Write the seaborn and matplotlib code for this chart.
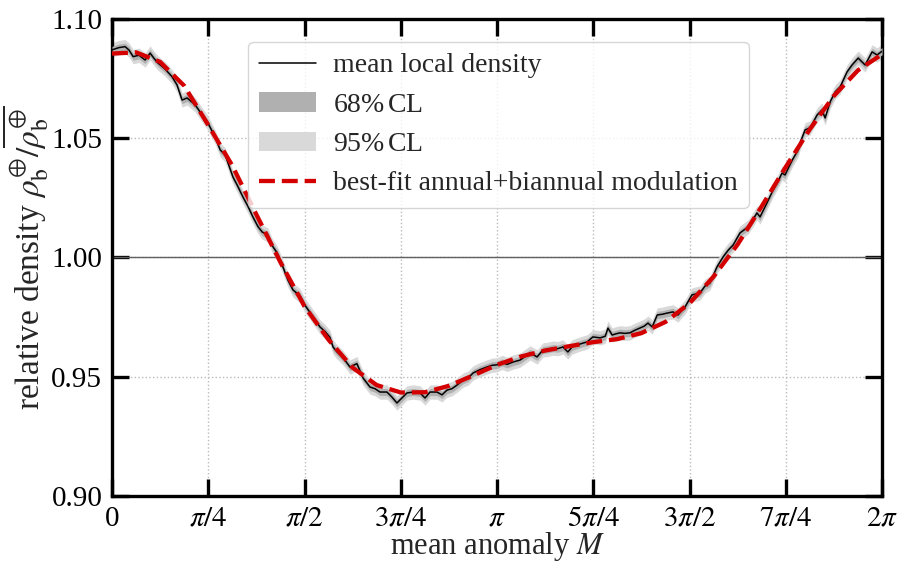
import numpy as np
import pandas as pd
import matplotlib
matplotlib.use("Agg")
import matplotlib.pyplot as plt
from matplotlib.lines import Line2D
from matplotlib.patches import Patch
import seaborn as sns

# ---------------- data ----------------
# mean local density, x given in units of pi
black_x_over_pi = [0.000, 0.003, 0.018, 0.034, 0.044, 0.055, 0.070, 0.086, 0.099, 0.109, 0.119, 0.138, 0.156, 0.169,
                   0.182, 0.195, 0.216, 0.234, 0.249, 0.268, 0.281, 0.294, 0.314, 0.325, 0.340, 0.353, 0.366, 0.379,
                   0.390, 0.405, 0.416, 0.429, 0.444, 0.457, 0.470, 0.488, 0.501, 0.514, 0.527, 0.540, 0.553, 0.566,
                   0.574, 0.584, 0.600, 0.618, 0.636, 0.652, 0.670, 0.683, 0.696, 0.714, 0.727, 0.740, 0.753, 0.766,
                   0.782, 0.800, 0.813, 0.826, 0.844, 0.857, 0.870, 0.883, 0.896, 0.912, 0.925, 0.938, 0.956, 0.974,
                   0.987, 1.000, 1.013, 1.026, 1.042, 1.060, 1.073, 1.086, 1.104, 1.119, 1.132, 1.145, 1.158, 1.171,
                   1.184, 1.195, 1.208, 1.221, 1.234, 1.249, 1.268, 1.281, 1.288, 1.299, 1.309, 1.319, 1.332, 1.345,
                   1.358, 1.371, 1.382, 1.392, 1.403, 1.416, 1.429, 1.442, 1.457, 1.470, 1.481, 1.488, 1.506, 1.527,
                   1.540, 1.553, 1.571, 1.587, 1.600, 1.613, 1.631, 1.652, 1.665, 1.675, 1.683, 1.701, 1.717, 1.730,
                   1.740, 1.748, 1.758, 1.769, 1.782, 1.787, 1.800, 1.813, 1.831, 1.844, 1.852, 1.865, 1.878, 1.891,
                   1.909, 1.922, 1.938, 1.956, 1.974, 1.987, 2.000]
black_density = [1.0870, 1.0872, 1.0880, 1.0884, 1.0870, 1.0842, 1.0848, 1.0828, 1.0857, 1.0835, 1.0816, 1.0790, 1.0758, 1.0723,
                 1.0660, 1.0669, 1.0640, 1.0598, 1.0564, 1.0505, 1.0451, 1.0430, 1.0338, 1.0304, 1.0254, 1.0215, 1.0170, 1.0130,
                 1.0107, 1.0094, 1.0050, 1.0019, 0.9960, 0.9905, 0.9864, 0.9840, 0.9800, 0.9770, 0.9740, 0.9709, 0.9690, 0.9665,
                 0.9625, 0.9605, 0.9580, 0.9541, 0.9555, 0.9495, 0.9457, 0.9450, 0.9436, 0.9436, 0.9415, 0.9390, 0.9411, 0.9432,
                 0.9436, 0.9432, 0.9411, 0.9436, 0.9436, 0.9424, 0.9444, 0.9450, 0.9465, 0.9486, 0.9495, 0.9516, 0.9530, 0.9541,
                 0.9548, 0.9550, 0.9560, 0.9552, 0.9562, 0.9570, 0.9585, 0.9600, 0.9583, 0.9612, 0.9615, 0.9620, 0.9618, 0.9625,
                 0.9604, 0.9625, 0.9633, 0.9640, 0.9646, 0.9667, 0.9663, 0.9670, 0.9704, 0.9675, 0.9680, 0.9684, 0.9682, 0.9684,
                 0.9695, 0.9704, 0.9712, 0.9725, 0.9709, 0.9759, 0.9762, 0.9767, 0.9772, 0.9759, 0.9780, 0.9792, 0.9843, 0.9851,
                 0.9880, 0.9893, 0.9960, 1.0002, 1.0030, 1.0052, 1.0103, 1.0128, 1.0160, 1.0187, 1.0170, 1.0229, 1.0283, 1.0320,
                 1.0354, 1.0346, 1.0380, 1.0415, 1.0451, 1.0480, 1.0535, 1.0543, 1.0597, 1.0618, 1.0585, 1.0652, 1.0694, 1.0715,
                 1.0778, 1.0807, 1.0836, 1.0807, 1.0862, 1.0849, 1.0865]

# half-widths of the confidence bands
ci68_halfwidth = 0.0015
ci95_halfwidth = 0.0030

# best-fit annual+biannual modulation, sampled every pi/16
fit_x_over_pi = [k / 16 for k in range(33)]
fit_density = [1.0855, 1.0860, 1.0820, 1.0720, 1.0555, 1.0385, 1.0180, 0.9980, 0.9795, 0.9655, 0.9538,
               0.9465, 0.9434, 0.9435, 0.9462, 0.9505, 0.9550, 0.9585, 0.9610, 0.9628, 0.9645, 0.9658,
               0.9683, 0.9730, 0.9808, 0.9920, 1.0055, 1.0215, 1.0380, 1.0538, 1.0678, 1.0785, 1.0852]

x_tick_over_pi = [0, 0.25, 0.5, 0.75, 1.0, 1.25, 1.5, 1.75, 2.0]
x_tick_labels = ['0', r'$\pi/4$', r'$\pi/2$', r'$3\pi/4$', r'$\pi$', r'$5\pi/4$', r'$3\pi/2$', r'$7\pi/4$', r'$2\pi$']
y_ticks = [0.90, 0.95, 1.00, 1.05, 1.10]

legend_labels = ['mean local density', '68%$\\,$CL', '95%$\\,$CL', 'best-fit annual+biannual modulation']

# ---------------- styling ----------------
sns.set_theme(style="ticks")
plt.rcParams['font.family'] = ['Liberation Serif', 'DejaVu Serif']
plt.rcParams['mathtext.fontset'] = 'stix'
plt.rcParams['font.size'] = 21

black_df = pd.DataFrame({'M': np.array(black_x_over_pi) * np.pi, 'rho': black_density})
fit_df = pd.DataFrame({'M': np.array(fit_x_over_pi) * np.pi, 'rho': fit_density})

fig = plt.figure(figsize=(9.01, 5.70), dpi=100)
ax = fig.add_axes([0.1243, 0.1298, 0.8547, 0.8369])

c95 = '#d9d9d9'
c68 = '#b0b0b0'
ax.fill_between(black_df['M'], black_df['rho'] - ci95_halfwidth, black_df['rho'] + ci95_halfwidth,
                color=c95, lw=0, zorder=2)
ax.fill_between(black_df['M'], black_df['rho'] - ci68_halfwidth, black_df['rho'] + ci68_halfwidth,
                color=c68, lw=0, zorder=3)
sns.lineplot(data=black_df, x='M', y='rho', ax=ax, color='black', lw=1.1, zorder=4, sort=False, estimator=None)
sns.lineplot(data=fit_df, x='M', y='rho', ax=ax, color='#d40000', lw=3.1, ls='--', zorder=5, sort=False, estimator=None)

ax.axhline(1.0, color='#606060', lw=1.0, zorder=1)

ax.set_xlim(0, 2 * np.pi)
ax.set_ylim(0.90, 1.10)
ax.set_xticks(np.array(x_tick_over_pi) * np.pi)
ax.set_xticklabels(x_tick_labels)
ax.set_yticks(y_ticks)
ax.set_yticklabels([f'{v:.2f}' for v in y_ticks])
ax.grid(True, ls=':', color='#bbbbbb', lw=1.0, zorder=0)

for s in ax.spines.values():
    s.set_linewidth(2.4)
    s.set_edgecolor('black')
    s.set_visible(True)
ax.tick_params(which='major', direction='in', length=12, width=2.4, top=True, right=True,
               labelsize=21, pad=7, colors='black')

ax.set_xlabel(r'mean anomaly $M$', fontsize=22, labelpad=-1)
ax.set_ylabel(r'relative density $\rho_{\rm b}^{\oplus}/\overline{\rho_{\rm b}^{\oplus}}$', fontsize=24, labelpad=0)

handles = [Line2D([], [], color='black', lw=1.1),
           Patch(facecolor=c68, edgecolor='none'),
           Patch(facecolor=c95, edgecolor='none'),
           Line2D([], [], color='#d40000', lw=3.1, ls='--')]
leg = ax.legend(handles, legend_labels, loc='upper center', bbox_to_anchor=(0.502, 0.952),
                borderaxespad=0, fontsize=20, handlelength=2.05, handletextpad=0.6,
                labelspacing=0.5, frameon=True, fancybox=True, framealpha=0.8, borderpad=0.4)
leg.get_frame().set_edgecolor('#cccccc')
leg.get_frame().set_linewidth(1.0)

fig.savefig('out.png', dpi=100)
